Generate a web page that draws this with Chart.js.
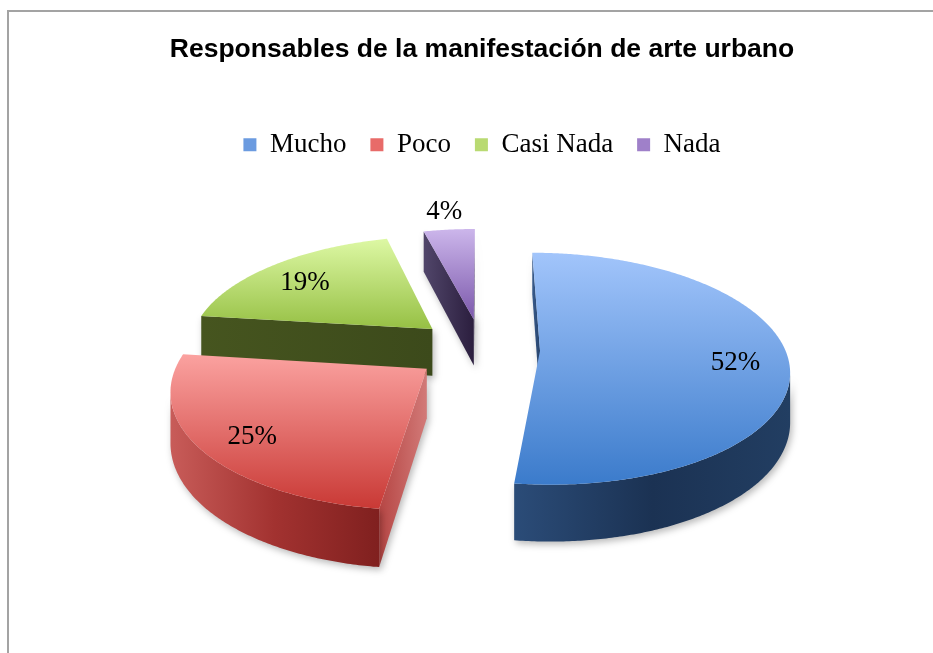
<!DOCTYPE html>
<html>
<head>
<meta charset="utf-8">
<script src="https://cdn.jsdelivr.net/npm/chart.js@4/dist/chart.umd.min.js"></script>
<style>
  html, body { margin:0; padding:0; background:#fff; overflow:hidden; }
  #wrap { position:relative; width:933px; height:653px; }
  #frame { position:absolute; left:7px; top:10px; width:1000px; height:1000px; border:2px solid #a3a3a3; box-sizing:border-box; pointer-events:none; }
  canvas { position:absolute; left:0; top:0; }
</style>
</head>
<body>
<div id="wrap">
  <canvas id="c" width="933" height="653"></canvas>
  <div id="frame"></div>
</div>
<script>
// ---- data ----
const chartTitle = 'Responsables de la manifestación de arte urbano';
const categories = ['Mucho', 'Poco', 'Casi Nada', 'Nada'];
const values = [52, 25, 19, 4];

// ---- styles ----
const legendColors = ['#6b9be0', '#e86b69', '#b9da72', '#9f80c9'];
const explode = [58, 68, 68, 68];
const topGrad = [['#a2c5fb', '#3b7bcb'], ['#fba2a0', '#c93935'], ['#ddf8a4', '#96c044'], ['#ccb6eb', '#7b58ab']];
const wallGrad = [['#2b4c78', '#1b3253', '#223e62'], ['#c85c59', '#a23230', '#80201f'], ['#4a5a24', '#3e4b1c', '#3a461a'], ['#554a6a', '#3a2d4e', '#2a1d3a']];
const edgeGrad = [['#3a5c8c', '#25416a'], ['#b64644', '#d27a78'], ['#46551f', '#3c4a1b'], ['#51466a', '#2b1e3e']];
const VIEW = { tilt: 0.46, distance: 6.5, depth: 48, labelDy: 6 };

const pie3d = {
  id: 'pie3d',
  beforeDatasetsDraw(chart) {
    const ctx = chart.ctx;
    const arcs = chart.getDatasetMeta(0).data;
    if (!arcs.length) return false;
    const X0 = arcs[0].x, Y0 = arcs[0].y;
    const R = arcs[0].outerRadius;
    const D = VIEW.distance * R, K = VIEW.tilt, H = VIEW.depth;
    const P = (u, v, h) => { const s = D / (D - v); return [X0 + u * s, Y0 + v * K * s + h * s]; };
    const vis = (nx, ny, pu, pv) => nx * (0 - pu) + ny * (D - pv) > 0;
    const total = values.reduce((a, b) => a + b, 0);

    const slices = arcs.map((el, i) => {
      const p = el.getProps(['startAngle', 'endAngle', 'outerRadius'], true);
      const off = el.options.offset || 0;
      const mid = (p.startAngle + p.endAngle) / 2;
      return { i, a0: p.startAngle, a1: p.endAngle, r: p.outerRadius, mid,
               cu: Math.cos(mid) * off, cv: Math.sin(mid) * off };
    });
    const order = slices.slice().sort((a, b) => a.cv - b.cv);

    const fillPoly = (pts, style) => {
      ctx.beginPath();
      pts.forEach((p, j) => j ? ctx.lineTo(p[0], p[1]) : ctx.moveTo(p[0], p[1]));
      ctx.closePath();
      ctx.fillStyle = style;
      ctx.fill();
    };
    const hGrad = (pts, cols) => {
      const xs = pts.map(p => p[0]);
      const g = ctx.createLinearGradient(Math.min(...xs), 0, Math.max(...xs) + 0.01, 0);
      cols.forEach((c, j) => g.addColorStop(j / (cols.length - 1), c));
      return g;
    };

    ctx.save();
    for (const s of order) {
      const n = Math.max(12, Math.ceil((s.a1 - s.a0) / 0.01));
      const top = [], bot = [], ang = [];
      for (let j = 0; j <= n; j++) {
        const a = s.a0 + (s.a1 - s.a0) * j / n;
        const u = s.cu + s.r * Math.cos(a), v = s.cv + s.r * Math.sin(a);
        top.push(P(u, v, 0)); bot.push(P(u, v, H)); ang.push([a, u, v]);
      }
      const cT = P(s.cu, s.cv, 0), cB = P(s.cu, s.cv, H);

      ctx.shadowColor = 'rgba(0,0,0,0.28)';
      ctx.shadowBlur = 7;
      ctx.shadowOffsetX = 2;
      ctx.shadowOffsetY = 3;

      // radial walls
      const edges = [
        { k: 0, nA: s.a0 - Math.PI / 2 },
        { k: n, nA: s.a1 + Math.PI / 2 }
      ];
      for (const e of edges) {
        const pu = (s.cu + ang[e.k][1]) / 2, pv = (s.cv + ang[e.k][2]) / 2;
        if (vis(Math.cos(e.nA), Math.sin(e.nA), pu, pv)) {
          const poly = [cT, top[e.k], bot[e.k], cB];
          fillPoly(poly, hGrad(poly, edgeGrad[s.i]));
        }
      }
      // outer wall (visible runs)
      let run = [];
      const flush = () => {
        if (run.length > 1) {
          const poly = run.map(k => top[k]).concat(run.slice().reverse().map(k => bot[k]));
          fillPoly(poly, hGrad(poly, wallGrad[s.i]));
        }
        run = [];
      };
      for (let j = 0; j <= n; j++) {
        const [a, u, v] = ang[j];
        if (vis(Math.cos(a), Math.sin(a), u, v)) run.push(j); else flush();
      }
      flush();

      ctx.shadowColor = 'rgba(0,0,0,0)';
      ctx.shadowBlur = 0; ctx.shadowOffsetX = 0; ctx.shadowOffsetY = 0;

      // top face
      const face = [cT].concat(top);
      const ys = face.map(p => p[1]);
      const g = ctx.createLinearGradient(0, Math.min(...ys), 0, Math.max(...ys));
      g.addColorStop(0, topGrad[s.i][0]);
      g.addColorStop(1, topGrad[s.i][1]);
      fillPoly(face, g);
    }

    // percentage labels
    ctx.fillStyle = '#000';
    ctx.font = '27px "Liberation Serif", serif';
    ctx.textAlign = 'center';
    ctx.textBaseline = 'middle';
    for (const s of slices) {
      const share = values[s.i] / total;
      const outside = share < 0.05;
      const f = outside ? 1.23 : 0.79;
      const p = P(s.cu + f * s.r * Math.cos(s.mid), s.cv + f * s.r * Math.sin(s.mid), 0);
      ctx.fillText(Math.round(share * 100) + '%', p[0], p[1] + (outside ? 0 : VIEW.labelDy));
    }
    ctx.restore();
    return false;
  }
};

new Chart(document.getElementById('c'), {
  type: 'pie',
  data: {
    labels: categories,
    datasets: [{
      data: values,
      backgroundColor: legendColors,
      borderWidth: 0,
      offset: explode
    }]
  },
  options: {
    responsive: false,
    animation: false,
    radius: 245,
    layout: { padding: { left: 31, right: 0, top: 0, bottom: 123 } },
    plugins: {
      title: {
        display: true,
        text: chartTitle,
        color: '#000',
        font: { family: '"Liberation Sans", Arial, sans-serif', size: 26.5, weight: 'bold' },
        padding: { top: 33.5, bottom: 42 }
      },
      legend: {
        display: true,
        position: 'top',
        labels: {
          color: '#000',
          font: { family: '"Liberation Serif", serif', size: 27 },
          boxWidth: 13,
          boxHeight: 13,
          padding: 24
        }
      },
      tooltip: { enabled: false }
    }
  },
  plugins: [pie3d]
});
</script>
</body>
</html>
